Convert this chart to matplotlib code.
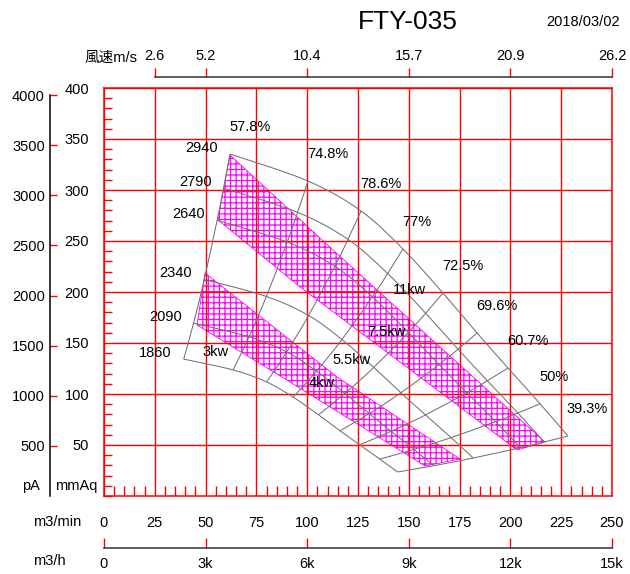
import numpy as np
import matplotlib
matplotlib.use('Agg')
import matplotlib.pyplot as plt
from matplotlib.ticker import MultipleLocator
from matplotlib.patches import Polygon, PathPatch
from matplotlib.path import Path

plt.rcParams['font.family'] = ['Liberation Sans', 'Noto Sans CJK JP', 'DejaVu Sans']
plt.rcParams['hatch.linewidth'] = 0.9

# ---------------- data ----------------
title = 'FTY-035'
date_text = '2018/03/02'

speeds = [2940, 2790, 2640, 2340, 2090, 1860]          # rpm
ref_speed = 2940
ref_flow = [62.0, 100.4, 126.5, 147.1, 166.8, 183.6, 198.8, 214.6, 228.3]   # m3/min @2940
ref_press = [335.3, 308.8, 279.4, 242.2, 199.0, 159.8, 125.5, 90.4, 58.8]   # mmAq @2940
eff_labels = ['57.8%', '74.8%', '78.6%', '77%', '72.5%', '69.6%', '60.7%', '50%', '39.3%']

power_labels = ['11kw', '7.5kw', '5.5kw', '4kw', '3kw']
power_flow = [150.1, 138.8, 122.0, 107.3, 55.1]
power_press = [202.0, 160.8, 133.3, 110.8, 141.2]

band_upper_flow = [62.0, 112.7, 217.0, 203.3, 96.5, 56.1]
band_upper_press = [334.3, 241.2, 52.9, 45.1, 204.9, 270.6]
band_lower_flow = [49.7, 114.7, 175.2, 158.0, 91.5, 45.8]
band_lower_press = [218.6, 116.7, 36.3, 29.4, 111.8, 167.6]

flow_ticks = [0, 25, 50, 75, 100, 125, 150, 175, 200, 225, 250]
mmaq_ticks = [50, 100, 150, 200, 250, 300, 350, 400]
pa_ticks = [500, 1000, 1500, 2000, 2500, 3000, 3500, 4000]
wind_tick_flow = [25, 50, 100, 150, 200, 250]
wind_labels = ['2.6', '5.2', '10.4', '15.7', '20.9', '26.2']
m3h_ticks = [0, 3000, 6000, 9000, 12000, 15000]
m3h_labels = ['0', '3k', '6k', '9k', '12k', '15k']

# ---------------- layout ----------------
W, H = 630, 574
fig = plt.figure(figsize=(W / 100, H / 100), dpi=100)

def fx(px):
    return px / W

def fy(py):
    return 1 - py / H

L, R, T, B = 104, 612, 88, 496
FS = 10.5
RED = '#ff0000'
GRAY = '#727272'

ax = fig.add_axes([fx(L), fy(B), fx(R) - fx(L), fy(T) - fy(B)])
ax.set_xlim(0, 250)
ax.set_ylim(0, 400)
for s in ax.spines.values():
    s.set_color(RED)
    s.set_linewidth(1.1)
ax.set_xticks(flow_ticks)
ax.set_xticklabels([str(v) for v in flow_ticks])
ax.set_yticks(mmaq_ticks)
ax.set_yticklabels([str(v) for v in mmaq_ticks])
ax.grid(True, color=RED, lw=1.0)
ax.tick_params(axis='x', which='major', length=0, pad=14.5, labelsize=FS)
ax.tick_params(axis='y', which='major', length=0, pad=10.8, labelsize=FS)
ax.xaxis.set_minor_locator(MultipleLocator(5))
ax.yaxis.set_minor_locator(MultipleLocator(10))
ax.tick_params(axis='x', which='minor', direction='in', length=7.2, width=1.0, color=RED)
ax.tick_params(axis='y', which='minor', direction='in', length=5.8, width=1.0, color=RED)

# performance mesh (fan laws)
r = np.array(speeds, dtype=float) / ref_speed
Q = np.outer(r, ref_flow)
P = np.outer(r ** 2, ref_press)

# hatched bands
for fl, pr in [(band_upper_flow, band_upper_press), (band_lower_flow, band_lower_press)]:
    poly = Polygon(np.column_stack([fl, pr]), closed=True, facecolor='none',
                   edgecolor='#ff00ff', hatch='+++', lw=0.6, zorder=1)
    ax.add_patch(poly)


def smooth_path(xs, ys):
    """Catmull-Rom curve through the given points, drawn as cubic Bezier segments."""
    pts = np.column_stack([xs, ys])
    n = len(pts)
    verts = [pts[0]]
    codes = [Path.MOVETO]
    for k in range(n - 1):
        p0 = pts[k - 1] if k > 0 else pts[k]
        p1, p2 = pts[k], pts[k + 1]
        p3 = pts[k + 2] if k + 2 < n else pts[k + 1]
        c1 = p1 + (p2 - p0) / 6.0
        c2 = p2 - (p3 - p1) / 6.0
        verts += [c1, c2, p2]
        codes += [Path.CURVE4] * 3
    return Path(verts, codes)


for i in range(len(speeds)):
    ax.add_patch(PathPatch(smooth_path(Q[i], P[i]), facecolor='none',
                           edgecolor=GRAY, lw=0.75, zorder=3))
for j in range(len(ref_flow)):
    ax.add_patch(PathPatch(smooth_path(Q[:, j], P[:, j]), facecolor='none',
                           edgecolor=GRAY, lw=0.75, zorder=3))

for j, lab in enumerate(eff_labels):
    ax.annotate(lab, xy=(Q[0, j], P[0, j]), xytext=(-1, 27), textcoords='offset pixels',
                ha='left', va='center', fontsize=FS, zorder=5)
for i, sp in enumerate(speeds):
    ax.annotate(str(sp), xy=(Q[i, 0], P[i, 0]), xytext=(-12, 6), textcoords='offset pixels',
                ha='right', va='center', fontsize=FS, zorder=5)
for lab, q, p in zip(power_labels, power_flow, power_press):
    ax.text(q, p, lab, ha='center', va='center', fontsize=FS, zorder=5)

# pA axis
axp = fig.add_axes([fx(50), fy(B), 0.0001, fy(T) - fy(B)])
axp.set_ylim(0, 4070)
for s in ['top', 'right', 'bottom']:
    axp.spines[s].set_visible(False)
axp.spines['left'].set_bounds(0, 4000)
axp.spines['left'].set_color('black')
axp.spines['left'].set_linewidth(1.1)
axp.set_xticks([])
axp.set_yticks(pa_ticks)
axp.set_yticklabels([str(v) for v in pa_ticks])
axp.tick_params(axis='y', direction='in', length=5.2, width=1.0, color=RED, pad=3.6, labelsize=FS)
axp.patch.set_visible(False)

# wind speed axis (top)
axt = fig.add_axes([fx(L), fy(77), fx(R) - fx(L), 0.0001])
axt.set_xlim(0, 250)
for s in ['left', 'right', 'bottom']:
    axt.spines[s].set_visible(False)
axt.spines['top'].set_bounds(25, 250)
axt.spines['top'].set_color('#333333')
axt.spines['top'].set_linewidth(1.1)
axt.set_yticks([])
axt.xaxis.tick_top()
axt.set_xticks(wind_tick_flow)
axt.set_xticklabels(wind_labels)
axt.tick_params(axis='x', direction='out', length=6.5, width=1.0, color=RED, pad=3.2, labelsize=FS)
axt.patch.set_visible(False)

# m3/h axis (bottom)
axh = fig.add_axes([fx(L), fy(548), fx(R) - fx(L), 0.0001])
axh.set_xlim(0, 15000)
for s in ['left', 'right', 'top']:
    axh.spines[s].set_visible(False)
axh.spines['bottom'].set_color('#333333')
axh.spines['bottom'].set_linewidth(1.1)
axh.set_yticks([])
axh.set_xticks(m3h_ticks)
axh.set_xticklabels(m3h_labels)
axh.tick_params(axis='x', direction='in', length=7.2, width=1.0, color=RED, pad=6.8, labelsize=FS)
axh.patch.set_visible(False)

# free texts
fig.text(fx(408), fy(22), title, ha='center', va='center', fontsize=19)
fig.text(fx(620), fy(22), date_text, ha='right', va='center', fontsize=FS)
fig.text(fx(138), fy(58), '風速m/s', ha='right', va='center', fontsize=FS)
fig.text(fx(31), fy(486), 'pA', ha='center', va='center', fontsize=FS)
fig.text(fx(55), fy(486), 'mmAq', ha='left', va='center', fontsize=FS)
fig.text(fx(33), fy(522), 'm3/min', ha='left', va='center', fontsize=FS)
fig.text(fx(33), fy(561), 'm3/h', ha='left', va='center', fontsize=FS)

fig.savefig('out.png', dpi=100)
